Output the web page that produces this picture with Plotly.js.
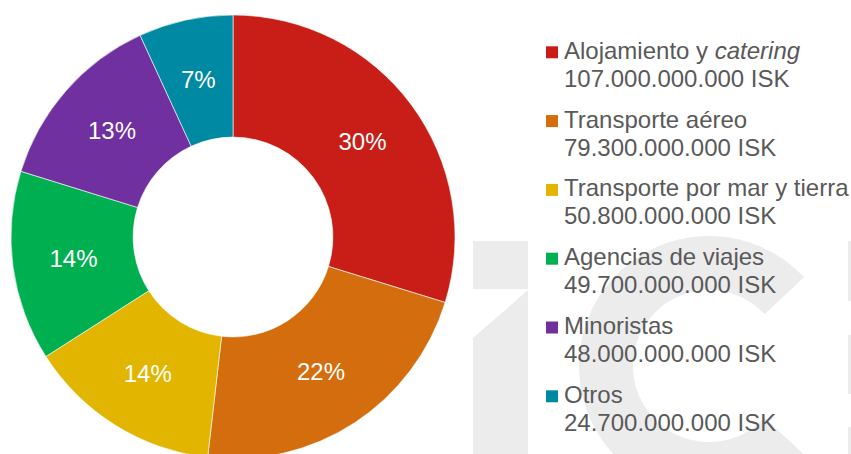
<!DOCTYPE html>
<html>
<head>
<meta charset="utf-8">
<script src="https://cdn.plot.ly/plotly-3.0.1.min.js"></script>
<style>
  html, body { margin: 0; padding: 0; overflow: hidden; background: #ffffff; }
  #wrap { width: 851px; height: 454px; overflow: hidden; position: relative; }
  #chart { width: 851px; height: 470px; }
</style>
</head>
<body>
<div id="wrap"><div id="chart"></div></div>
<script>
// ---- data ----
const categories = ['Alojamiento y catering', 'Transporte aéreo', 'Transporte por mar y tierra', 'Agencias de viajes', 'Minoristas', 'Otros'];
const legendNames = ['Alojamiento y <i>catering</i>', 'Transporte aéreo', 'Transporte por mar y tierra', 'Agencias de viajes', 'Minoristas', 'Otros'];
const values = [107000000000, 79300000000, 50800000000, 49700000000, 48000000000, 24700000000];
const colors = ['#C91E17', '#D46D0D', '#E2B600', '#00AF50', '#7030A0', '#0089A2'];
const unit = 'ISK';

// ---- layout helpers ----
const W = 851, H = 470;
const px = x => x / W;
const py = y => 1 - y / H;
function fmt(v) { return String(v).replace(/\B(?=(\d{3})+(?!\d))/g, '.') + ' ' + unit; }

const FONT = 'Arial, "Liberation Sans", sans-serif';
const textColor = '#595959';
const wm = '#ececec';
const PCT_SIZE = 24, fs = 24;

// pie geometry (pixels)
const CX = 233, CY = 237, R_OUT = 222, HOLE = 0.45;
const total = values.reduce((a, b) => a + b, 0);
// small slices: label placed at the middle of the ring instead of the default spot
const small = values.map(v => v / total < 0.1);

const trace = {
  type: 'pie',
  labels: categories,
  values: values,
  sort: false,
  direction: 'clockwise',
  rotation: 0,
  hole: HOLE,
  marker: { colors: colors, line: { color: 'rgba(255,255,255,0.6)', width: 1 } },
  texttemplate: small.map(s => s ? ' ' : '%{percent:.0%}'),
  textposition: 'inside',
  insidetextorientation: 'horizontal',
  textfont: { family: FONT, size: PCT_SIZE, color: '#ffffff' },
  hoverinfo: 'label+value+percent',
  domain: { x: [px(CX - R_OUT), px(CX + R_OUT)], y: [py(CY + R_OUT), py(CY - R_OUT)] },
  showlegend: false
};

// ---- watermark shapes ----
const shapes = [];
function poly(pts) {
  return 'M' + pts.map(p => px(p[0]).toFixed(5) + ',' + py(p[1]).toFixed(5)).join('L') + 'Z';
}
// "i"
shapes.push({ type: 'path', xref: 'paper', yref: 'paper', layer: 'below', fillcolor: wm, line: { width: 0 },
  path: poly([[473, 241], [528, 241], [528, 289], [473, 289]]) });
shapes.push({ type: 'path', xref: 'paper', yref: 'paper', layer: 'below', fillcolor: wm, line: { width: 0 },
  path: poly([[473, 338], [528, 290], [528, 480], [473, 480]]) });
// "c"
(function () {
  const cx = 709, cy = 366, R = 130, r = 76, a0 = 43, a1 = 317;
  const pts = [];
  for (let a = a0; a <= a1; a += 2) { const t = a * Math.PI / 180; pts.push([cx + R * Math.cos(t), cy - R * Math.sin(t)]); }
  for (let a = a1; a >= a0; a -= 2) { const t = a * Math.PI / 180; pts.push([cx + r * Math.cos(t), cy - r * Math.sin(t)]); }
  shapes.push({ type: 'path', xref: 'paper', yref: 'paper', layer: 'below', fillcolor: wm, line: { width: 0 }, path: poly(pts) });
})();
// partial letter at the right edge
[[241, 301], [335, 394], [427, 480]].forEach(b => {
  shapes.push({ type: 'path', xref: 'paper', yref: 'paper', layer: 'below', fillcolor: wm, line: { width: 0 },
    path: poly([[848, b[0]], [860, b[0]], [860, b[1]], [848, b[1]]]) });
});

const annotations = [];

// ---- percentage labels for small slices (ring middle, along the slice's mid angle) ----
let cum = 0;
values.forEach((v, i) => {
  const mid = (cum + v / 2) / total * 2 * Math.PI; // clockwise from 12 o'clock
  cum += v;
  if (!small[i]) return;
  const rm = R_OUT * (1 + HOLE) / 2;
  annotations.push({ xref: 'paper', yref: 'paper', x: px(CX + rm * Math.sin(mid)), y: py(CY - rm * Math.cos(mid)),
    xanchor: 'center', yanchor: 'middle', showarrow: false,
    text: Math.round(v / total * 100) + '%', font: { family: FONT, size: PCT_SIZE, color: '#ffffff' } });
});

// ---- legend (squares + two text lines per category) ----
const base0 = 58.3, step = 68.8, lineGap = 28;
categories.forEach((c, i) => {
  const b1 = base0 + i * step;
  const b2 = b1 + lineGap;
  shapes.push({ type: 'rect', xref: 'paper', yref: 'paper', fillcolor: colors[i], line: { width: 0 },
    x0: px(546), x1: px(558), y0: py(b1), y1: py(b1 - 12) });
  annotations.push({ xref: 'paper', yref: 'paper', x: px(562), y: py(b1 - 8), xanchor: 'left', yanchor: 'middle',
    text: legendNames[i], showarrow: false, font: { family: FONT, size: fs, color: textColor } });
  annotations.push({ xref: 'paper', yref: 'paper', x: px(562), y: py(b2 - 8), xanchor: 'left', yanchor: 'middle',
    text: fmt(values[i]), showarrow: false, font: { family: FONT, size: fs, color: textColor } });
});

const layout = {
  width: W, height: H,
  margin: { l: 0, r: 0, t: 0, b: 0, pad: 0 },
  paper_bgcolor: '#ffffff',
  plot_bgcolor: '#ffffff',
  showlegend: false,
  font: { family: FONT, color: textColor },
  shapes: shapes,
  annotations: annotations
};

Plotly.newPlot('chart', [trace], layout, { displayModeBar: false, staticPlot: true });
</script>
</body>
</html>
